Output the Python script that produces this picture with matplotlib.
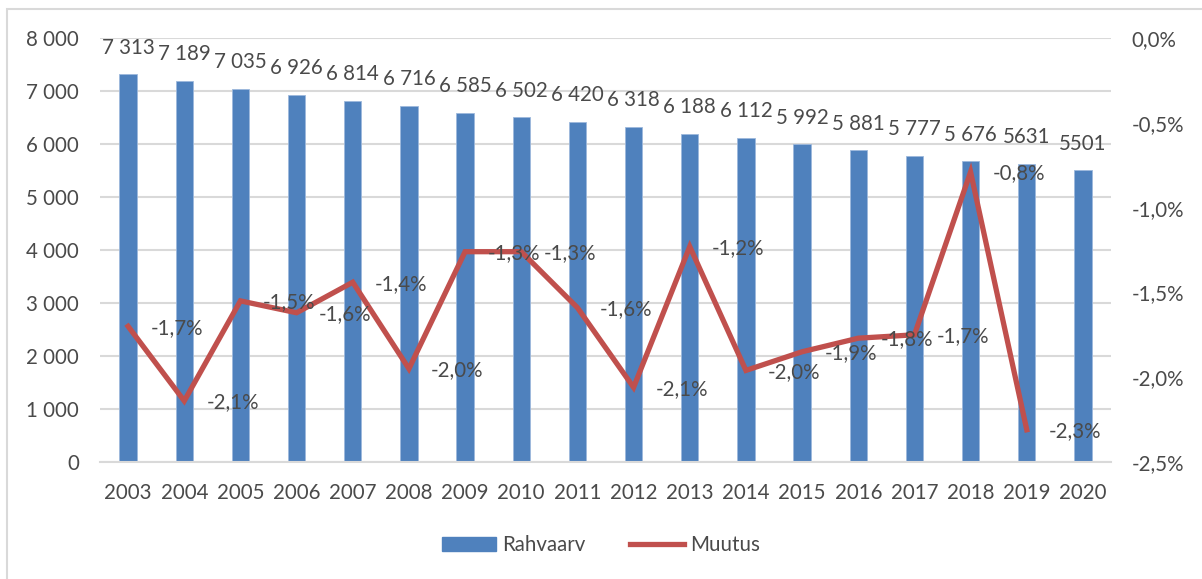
import matplotlib.pyplot as plt
from matplotlib.patches import Rectangle, Patch
from matplotlib.lines import Line2D

years = [str(y) for y in range(2003, 2021)]
rahvaarv = [7313, 7189, 7035, 6926, 6814, 6716, 6585, 6502, 6420,
            6318, 6188, 6112, 5992, 5881, 5777, 5676, 5631, 5501]
rahvaarv_labels = ["7 313", "7 189", "7 035", "6 926", "6 814", "6 716", "6 585",
                   "6 502", "6 420", "6 318", "6 188", "6 112", "5 992", "5 881",
                   "5 777", "5 676", "5631", "5501"]
# change in %, one value per year 2003..2019
muutus = [-1.70, -2.14, -1.55, -1.62, -1.44, -1.95, -1.26, -1.26, -1.59,
          -2.06, -1.23, -1.96, -1.85, -1.77, -1.75, -0.79, -2.31]
muutus_labels = ["-1,7%", "-2,1%", "-1,5%", "-1,6%", "-1,4%", "-2,0%", "-1,3%",
                 "-1,3%", "-1,6%", "-2,1%", "-1,2%", "-2,0%", "-1,9%", "-1,8%",
                 "-1,7%", "-0,8%", "-2,3%"]
left_ticks = [0, 1000, 2000, 3000, 4000, 5000, 6000, 7000, 8000]
left_tick_labels = ["0", "1 000", "2 000", "3 000", "4 000", "5 000", "6 000", "7 000", "8 000"]
right_ticks = [-2.5, -2.0, -1.5, -1.0, -0.5, 0.0]
right_tick_labels = ["-2,5%", "-2,0%", "-1,5%", "-1,0%", "-0,5%", "0,0%"]

blue = "#4F81BD"
red = "#C0504D"
txt = "#4A4A4A"
grid = "#D9D9D9"
fs = 14.8

plt.rcParams['font.family'] = ['Lato', 'DejaVu Sans']

fig = plt.figure(figsize=(12.02, 5.79), dpi=100)
fig.patches.append(Rectangle((7 / 1202, -0.1), 1.1, 1 - 9 / 579 + 0.1,
                             transform=fig.transFigure, fill=False,
                             edgecolor=grid, linewidth=1.5))

ax = fig.add_axes([100 / 1202, 1 - 462 / 579, 1011 / 1202, 424 / 579])
x = list(range(len(years)))
bars = ax.bar(x, rahvaarv, width=0.31, color=blue, edgecolor="#9DB9DC",
              linewidth=0.6, zorder=2)
ax.set_xlim(-0.5, len(years) - 0.5)
ax.set_ylim(0, 8000)
ax.set_yticks(left_ticks)
ax.set_yticklabels(left_tick_labels)
ax.set_xticks(x)
ax.set_xticklabels(years)
ax.yaxis.grid(True, color=grid, linewidth=1.5, zorder=0)
ax.set_axisbelow(True)
for s in ['top', 'right', 'left']:
    ax.spines[s].set_visible(False)
ax.spines['bottom'].set_color(grid)
ax.spines['bottom'].set_linewidth(1.5)
ax.tick_params(axis='both', length=0, labelsize=fs, labelcolor=txt)
ax.tick_params(axis='y', pad=15)
ax.tick_params(axis='x', pad=15)

for xi, v, lab in zip(x, rahvaarv, rahvaarv_labels):
    ax.annotate(lab, (xi, v), xytext=(0, 12), textcoords='offset points',
                ha='center', va='bottom', fontsize=fs, color=txt)

ax2 = ax.twinx()
ax2.set_ylim(-2.5, 0)
ax2.set_yticks(right_ticks)
ax2.set_yticklabels(right_tick_labels)
for s in ax2.spines.values():
    s.set_visible(False)
ax2.tick_params(axis='y', length=0, labelsize=fs, labelcolor=txt, pad=15)
ax2.plot(x[:len(muutus)], muutus, color=red, linewidth=3.8,
         solid_joinstyle='miter', zorder=3)
for xi, v, lab in zip(x, muutus, muutus_labels):
    ax2.annotate(lab, (xi, v), xytext=(16, -1), textcoords='offset points',
                 ha='left', va='center', fontsize=fs, color=txt)

handles = [Patch(color=blue, label="Rahvaarv"),
           Line2D([0], [0], color=red, linewidth=3.8, label="Muutus")]
fig.legend(handles=handles, loc='center', bbox_to_anchor=(0.5, 1 - 545 / 579),
           ncol=2, frameon=False, fontsize=fs, labelcolor=txt,
           handlelength=2.6, handleheight=0.65, columnspacing=2.2, handletextpad=0.3)

fig.savefig("out.png", dpi=100)
